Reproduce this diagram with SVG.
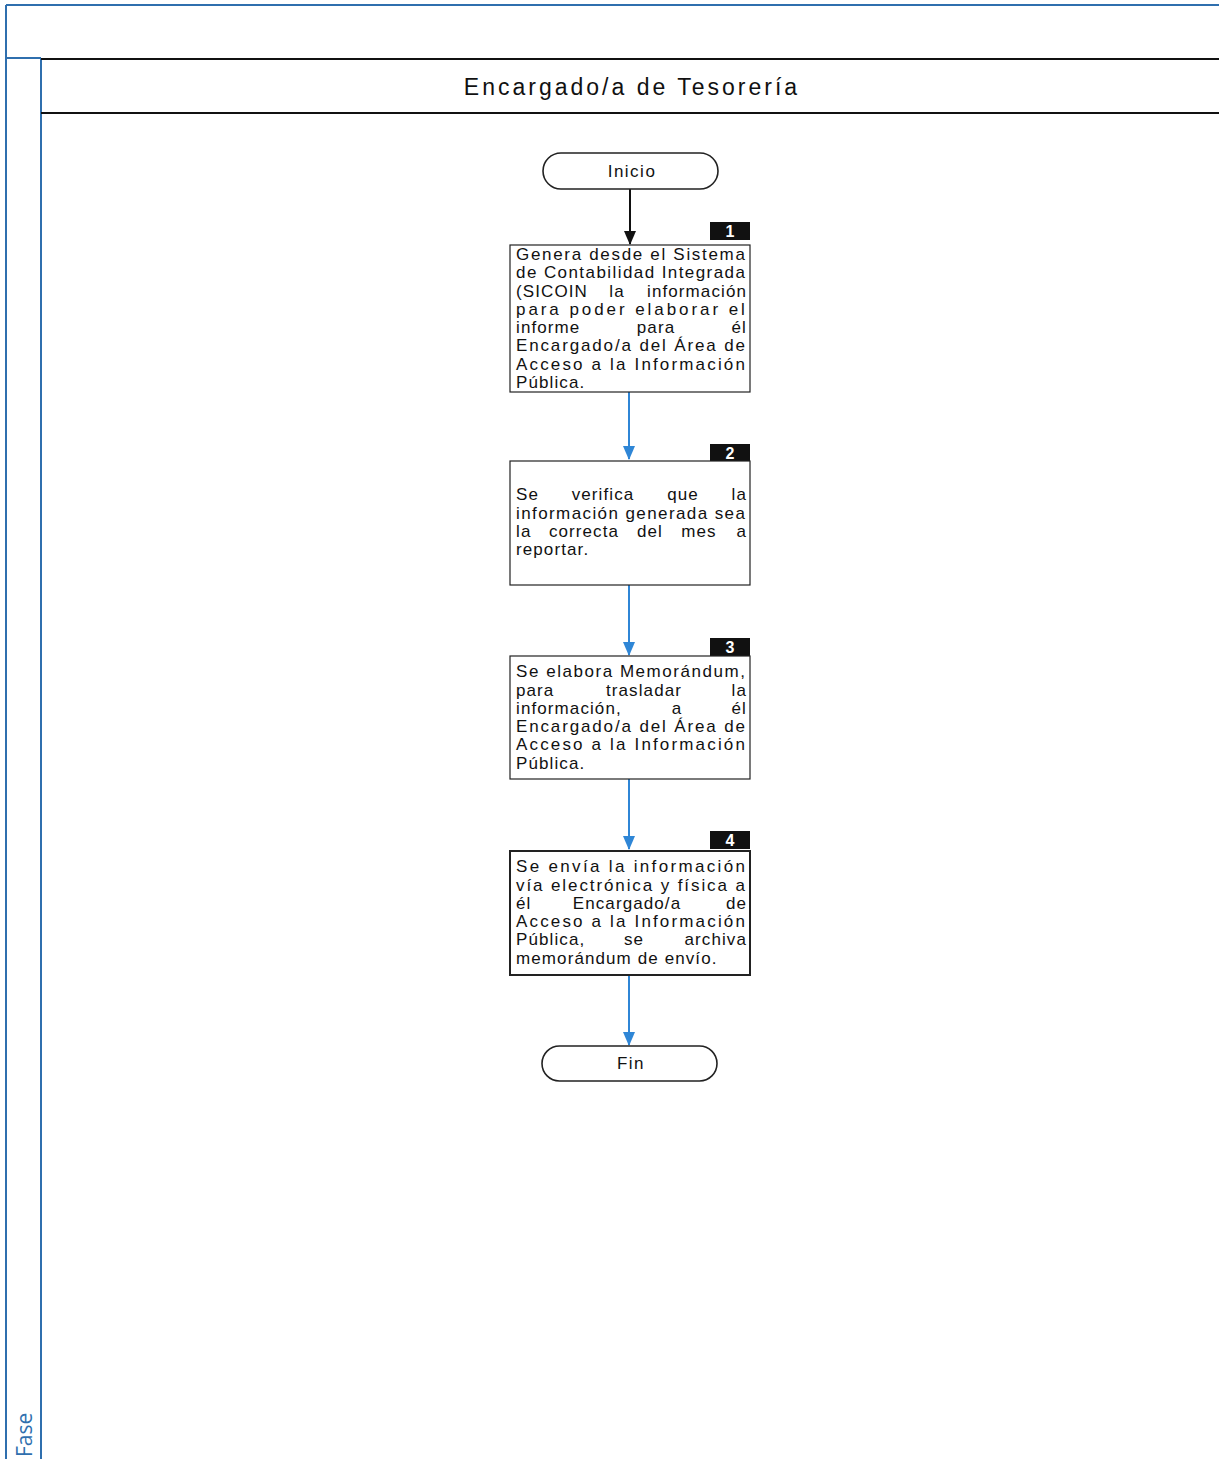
<svg xmlns="http://www.w3.org/2000/svg" width="1219" height="1459" viewBox="0 0 1219 1459">
<style>
.frame{stroke:#2f6fae;stroke-width:2;fill:none}
.hline{stroke:#111;stroke-width:2;fill:none}
.box{fill:#fff;stroke:#222;stroke-width:1.2}
.term{fill:#fff;stroke:#222;stroke-width:1.6}
.t{font-family:"Liberation Sans",Arial,sans-serif;font-size:17px;fill:#111;letter-spacing:1.1px}
.tc{font-family:"Liberation Sans",Arial,sans-serif;font-size:17px;fill:#111;text-anchor:middle;letter-spacing:1.5px}
.badge{fill:#111}
.bn{font-family:"Liberation Sans",Arial,sans-serif;font-size:16px;font-weight:bold;fill:#fff;text-anchor:middle}
.m{text-anchor:middle}
.e{text-anchor:end}
.blue{stroke:#2f86d6;stroke-width:2;fill:none}
.black{stroke:#111;stroke-width:2;fill:none}
</style>
<defs>
<marker id="ab" markerWidth="14" markerHeight="12" refX="13" refY="6" orient="auto" markerUnits="userSpaceOnUse"><path d="M0,0 L14,6 L0,12 z" fill="#2f86d6"/></marker>
<marker id="ak" markerWidth="14" markerHeight="12" refX="13" refY="6" orient="auto" markerUnits="userSpaceOnUse"><path d="M0,0 L14,6 L0,12 z" fill="#111"/></marker>
</defs>
<rect width="1219" height="1459" fill="#fff"/>
<g id="frame">
<line class="frame" x1="6" y1="5" x2="1219" y2="5"/>
<line class="frame" x1="6" y1="5" x2="6" y2="1459"/>
<line class="frame" x1="6" y1="58" x2="41" y2="58"/>
<line class="frame" x1="41" y1="58" x2="41" y2="1459"/>
<line class="hline" x1="41" y1="59" x2="1219" y2="59"/>
<line class="hline" x1="41" y1="113" x2="1219" y2="113"/>
<text x="632" y="95" font-family="'Liberation Sans',Arial,sans-serif" font-size="23" fill="#111" text-anchor="middle" letter-spacing="3">Encargado/a de Tesorería</text>
<text transform="translate(32,1457) rotate(-90)" font-family="'Open Sans','Noto Sans',sans-serif" font-size="21" fill="#2f6fae">Fase</text>
</g>
<g id="connectors">
<line class="black" x1="630" y1="189" x2="630" y2="244" marker-end="url(#ak)"/>
<line class="blue" x1="629" y1="392" x2="629" y2="459" marker-end="url(#ab)"/>
<line class="blue" x1="629" y1="585" x2="629" y2="655" marker-end="url(#ab)"/>
<line class="blue" x1="629" y1="779" x2="629" y2="849" marker-end="url(#ab)"/>
<line class="blue" x1="629" y1="975" x2="629" y2="1045" marker-end="url(#ab)"/>
</g>
<g id="inicio">
<rect class="term" x="543" y="153" width="175" height="36" rx="18"/>
<text class="tc" x="632" y="177">Inicio</text>
</g>
<g id="paso1">
<rect class="badge" x="710" y="222" width="40" height="18"/>
<text class="bn" x="730" y="237">1</text>
<rect class="box" x="510" y="245" width="240" height="147"/>
<text class="t" x="516" y="260" textLength="230" lengthAdjust="spacing">Genera desde el Sistema</text>
<text class="t" x="516" y="278" textLength="230" lengthAdjust="spacing">de Contabilidad Integrada</text>
<text class="t" x="516" y="297">(SICOIN</text><text class="t m" x="617" y="297">la</text><text class="t e" x="747" y="297">información</text>
<text class="t" x="516" y="315" textLength="230" lengthAdjust="spacing">para  poder  elaborar  el</text>
<text class="t" x="516" y="333">informe</text><text class="t m" x="656" y="333">para</text><text class="t e" x="747" y="333">él</text>
<text class="t" x="516" y="351" textLength="230" lengthAdjust="spacing">Encargado/a del Área de</text>
<text class="t" x="516" y="370" textLength="230" lengthAdjust="spacing">Acceso a la Información</text>
<text class="t" x="516" y="388">Pública.</text>
</g>
<g id="paso2">
<rect class="badge" x="710" y="444" width="40" height="18"/>
<text class="bn" x="730" y="459">2</text>
<rect class="box" x="510" y="461" width="240" height="124"/>
<text class="t" x="516" y="500">Se</text><text class="t m" x="603" y="500">verifica</text><text class="t m" x="683" y="500">que</text><text class="t e" x="747" y="500">la</text>
<text class="t" x="516" y="519" textLength="230" lengthAdjust="spacing">información generada sea</text>
<text class="t" x="516" y="537">la</text><text class="t m" x="584" y="537">correcta</text><text class="t m" x="650" y="537">del</text><text class="t m" x="699" y="537">mes</text><text class="t e" x="747" y="537">a</text>
<text class="t" x="516" y="555">reportar.</text>
</g>
<g id="paso3">
<rect class="badge" x="710" y="638" width="40" height="18"/>
<text class="bn" x="730" y="653">3</text>
<rect class="box" x="510" y="656" width="240" height="123"/>
<text class="t" x="516" y="677" textLength="230" lengthAdjust="spacing">Se elabora Memorándum,</text>
<text class="t" x="516" y="696">para</text><text class="t m" x="644" y="696">trasladar</text><text class="t e" x="747" y="696">la</text>
<text class="t" x="516" y="714">información,</text><text class="t m" x="677" y="714">a</text><text class="t e" x="747" y="714">él</text>
<text class="t" x="516" y="732" textLength="230" lengthAdjust="spacing">Encargado/a del Área de</text>
<text class="t" x="516" y="750" textLength="230" lengthAdjust="spacing">Acceso a la Información</text>
<text class="t" x="516" y="769">Pública.</text>
</g>
<g id="paso4">
<rect class="badge" x="710" y="831" width="40" height="18"/>
<text class="bn" x="730" y="846">4</text>
<rect class="box" x="510" y="851" width="240" height="124" style="stroke-width:2"/>
<text class="t" x="516" y="872" textLength="230" lengthAdjust="spacing">Se envía la información</text>
<text class="t" x="516" y="891" textLength="230" lengthAdjust="spacing">vía electrónica y física a</text>
<text class="t" x="516" y="909">él</text><text class="t m" x="627" y="909">Encargado/a</text><text class="t e" x="747" y="909">de</text>
<text class="t" x="516" y="927" textLength="230" lengthAdjust="spacing">Acceso a la Información</text>
<text class="t" x="516" y="945">Pública,</text><text class="t m" x="634" y="945">se</text><text class="t e" x="747" y="945">archiva</text>
<text class="t" x="516" y="964">memorándum de envío.</text>
</g>
<g id="fin">
<rect class="term" x="542" y="1046" width="175" height="35" rx="17.5"/>
<text class="tc" x="631" y="1069">Fin</text>
</g>
</svg>
